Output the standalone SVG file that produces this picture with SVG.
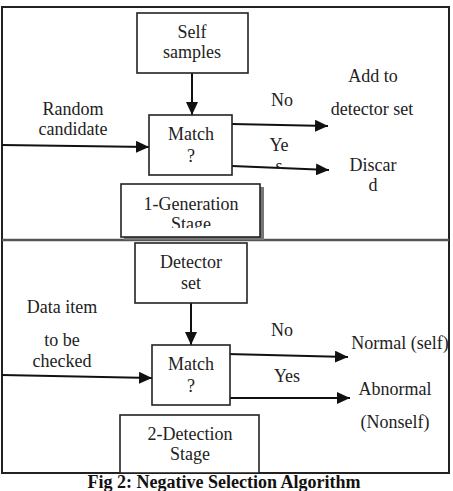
<svg xmlns="http://www.w3.org/2000/svg" width="453" height="491" viewBox="0 0 453 491" font-family="Liberation Serif">
<style>
.lbl{font-family:'Liberation Serif',serif;font-size:18px;fill:#222;text-anchor:middle}
.cap{font-family:'Liberation Serif',serif;font-size:18px;font-weight:bold;fill:#111;text-anchor:middle}
.box{fill:#fff;stroke:#222;stroke-width:1.6}
.frame{fill:none;stroke:#222;stroke-width:2}
.conn{stroke:#111;stroke-width:2;fill:none;marker-end:url(#ah)}
</style>
<defs>
<marker id="ah" markerUnits="userSpaceOnUse" markerWidth="14" markerHeight="12" refX="13" refY="6" orient="auto">
<path d="M0,0 L13,6 L0,12 Z" fill="#111"/>
</marker>
<clipPath id="cg"><rect x="0" y="0" width="453" height="228"/></clipPath>
<clipPath id="cs"><rect x="0" y="0" width="453" height="169"/></clipPath>
</defs>
<rect width="453" height="491" fill="#fff"/>
<g id="frame">
<rect class="frame" x="2" y="7" width="447" height="466"/>
<line x1="2" y1="240" x2="449" y2="240" stroke="#555" stroke-width="2.5"/>
</g>
<g id="connectors">
<line class="conn" x1="192" y1="73" x2="192" y2="115"/>
<line class="conn" x1="2" y1="145" x2="149" y2="147"/>
<line class="conn" x1="232" y1="124" x2="328" y2="126"/>
<line class="conn" x1="232" y1="166" x2="329" y2="170"/>
<line class="conn" x1="191" y1="303" x2="191" y2="345"/>
<line class="conn" x1="2" y1="375" x2="152" y2="378"/>
<line class="conn" x1="227" y1="354" x2="348" y2="357"/>
<line class="conn" x1="230" y1="398" x2="350" y2="398"/>
</g>
<g id="self-samples">
<rect class="box" x="137" y="13" width="111" height="60"/>
<text class="lbl" x="192" y="38">Self</text>
<text class="lbl" x="192" y="58">samples</text>
</g>
<g id="match1">
<rect class="box" x="149" y="115" width="83" height="60"/>
<text class="lbl" x="191" y="140">Match</text>
<text class="lbl" x="191" y="162">?</text>
</g>
<g id="random-candidate">
<text class="lbl" x="73" y="115">Random</text>
<text class="lbl" x="73" y="135">candidate</text>
</g>
<g id="labels1">
<text class="lbl" x="282" y="106">No</text>
<text class="lbl" x="279" y="151">Ye</text>
<text class="lbl" x="279" y="172" clip-path="url(#cs)">s</text>
</g>
<g id="add-detector">
<text class="lbl" x="373" y="82">Add to</text>
<text class="lbl" x="372" y="115">detector set</text>
</g>
<g id="discard">
<text class="lbl" x="373" y="171">Discar</text>
<text class="lbl" x="373" y="191">d</text>
</g>
<g id="generation-stage">
<rect x="124" y="187" width="140" height="53" fill="#777"/>
<rect class="box" x="121" y="184" width="139" height="53"/>
<text class="lbl" x="191" y="210">1-Generation</text>
<text class="lbl" x="191" y="230" clip-path="url(#cg)">Stage</text>
</g>
<g id="detector-set">
<rect class="box" x="135" y="243" width="112" height="60"/>
<text class="lbl" x="191" y="268">Detector</text>
<text class="lbl" x="191" y="289">set</text>
</g>
<g id="data-item">
<text class="lbl" x="62" y="313">Data item</text>
<text class="lbl" x="62" y="346">to be</text>
<text class="lbl" x="62" y="367">checked</text>
</g>
<g id="match2">
<rect class="box" x="152" y="345" width="78" height="60"/>
<text class="lbl" x="191" y="370">Match</text>
<text class="lbl" x="191" y="392">?</text>
</g>
<g id="labels2">
<text class="lbl" x="282" y="336">No</text>
<text class="lbl" x="287" y="382">Yes</text>
</g>
<g id="normal">
<text class="lbl" x="400" y="349">Normal (self)</text>
</g>
<g id="abnormal">
<text class="lbl" x="395" y="395">Abnormal</text>
<text class="lbl" x="395" y="428">(Nonself)</text>
</g>
<g id="detection-stage">
<rect class="box" x="120" y="415" width="139" height="58"/>
<text class="lbl" x="190" y="440">2-Detection</text>
<text class="lbl" x="190" y="460">Stage</text>
</g>
<text class="cap" x="224" y="488">Fig 2: Negative Selection Algorithm</text>
</svg>
